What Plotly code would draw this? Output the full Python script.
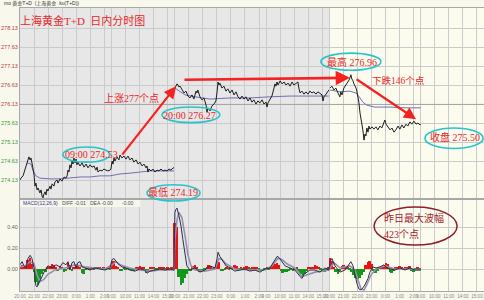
import plotly.graph_objects as go

DAY_LEN = 660  # trading minutes per day: 20:00-02:30, 09:00-11:30, 13:30-15:30

# ---------------- price (minute within day, price) ----------------
day1_price = [(0,274.13),(4,274.18),(13,274.24),(21,274.39),(30,274.58),(38,274.74),(43,274.66),(47,274.71),(55,274.45),(60,274.26),(64,273.97),(68,274.05),(73,273.87),(77,273.92),(85,273.79),(90,273.87),(94,273.71),(98,273.66),(102,273.76),(107,273.82),(111,273.74),(115,273.89),(119,273.84),(128,273.97),(132,273.89),(137,274.03),(145,273.97),(149,274.08),(158,274.13),(162,274.05),(171,274.16),(179,274.10),(188,274.21),(196,274.18),(201,274.24),(205,274.39),(209,274.34),(213,274.53),(218,274.45),(222,274.63),(226,274.55),(230,274.71),(235,274.58),(239,274.68),(243,274.53),(247,274.60),(256,274.50),(265,274.58),(273,274.47),(282,274.55),(290,274.45),(299,274.53),(307,274.47),(316,274.50),(324,274.39),(329,274.47),(333,274.34),(341,274.39),(350,274.37),(358,274.42),(367,274.39),(375,274.37),(384,274.39),(388,274.42),(393,274.63),(397,274.55),(401,274.71),(405,274.63),(414,274.74),(422,274.66),(427,274.79),(435,274.71),(444,274.76),(452,274.68),(461,274.76),(469,274.66),(478,274.71),(486,274.60),(495,274.66),(504,274.55),(512,274.60),(521,274.50),(529,274.55),(538,274.45),(542,274.50),(546,274.34),(550,274.42),(559,274.37),(567,274.42),(576,274.34),(585,274.39),(593,274.37),(602,274.42),(610,274.37),(619,274.39),(627,274.37),(636,274.42),(644,274.39),(653,274.45),(657,274.45)]
day2_price = [(1,276.55),(6,276.60),(10,276.66),(14,276.63),(18,276.58),(23,276.60),(31,276.50),(40,276.42),(48,276.47),(57,276.34),(65,276.29),(74,276.37),(82,276.26),(91,276.47),(95,276.42),(99,276.50),(108,276.32),(116,276.24),(125,276.29),(134,276.10),(138,275.92),(142,276.03),(151,275.95),(159,276.08),(168,276.13),(176,276.21),(181,276.45),(185,276.71),(189,276.63),(193,276.68),(202,276.55),(210,276.60),(219,276.47),(227,276.53),(236,276.42),(245,276.50),(253,276.37),(262,276.45),(270,276.32),(279,276.26),(287,276.34),(296,276.26),(304,276.32),(313,276.21),(321,276.29),(330,276.18),(338,276.24),(347,276.13),(355,276.21),(364,276.16),(373,276.24),(381,276.13),(390,276.18),(394,276.05),(398,276.16),(407,276.24),(415,276.34),(424,276.55),(428,276.66),(432,276.60),(437,276.71),(441,276.63),(450,276.74),(458,276.66),(467,276.71),(475,276.63),(484,276.68),(492,276.60),(501,276.71),(509,276.63),(518,276.68),(526,276.71),(530,276.55),(535,276.42),(543,276.47),(552,276.39),(560,276.45),(569,276.39),(577,276.47),(586,276.42),(594,276.45),(603,276.39),(611,276.45),(620,276.42),(629,276.37),(633,276.21),(637,276.32),(646,276.39),(654,276.45),(658,276.50)]
day3_price = [(3,276.55),(11,276.60),(20,276.50),(28,276.55),(37,276.42),(45,276.32),(49,276.45),(54,276.37),(62,276.55),(71,276.63),(79,276.71),(84,276.76),(88,276.82),(92,276.90),(96,276.79),(101,276.74),(105,276.66),(114,276.55),(118,276.45),(122,276.34),(126,276.18),(131,275.89),(135,275.76),(139,275.66),(143,275.45),(148,275.18),(152,275.34),(156,275.29),(160,275.50),(165,275.39),(169,275.55),(173,275.47),(182,275.53),(190,275.47),(199,275.53),(207,275.45),(216,275.55),(224,275.50),(233,275.66),(237,275.71),(242,275.60),(250,275.53),(259,275.45),(267,275.50),(276,275.39),(284,275.45),(293,275.55),(301,275.47),(310,275.58),(318,275.50),(327,275.60),(335,275.55),(344,275.66),(352,275.60),(361,275.68),(370,275.60),(378,275.63),(387,275.58),(390,275.60)]

# ---------------- average price line ----------------
day1_avg = [(30,274.58),(47,274.55),(55,274.39),(68,274.24),(85,274.18),(128,274.16),(171,274.16),(213,274.18),(256,274.21),(299,274.21),(341,274.24),(384,274.24),(427,274.29),(469,274.31),(512,274.34),(555,274.37),(597,274.37),(657,274.37)]
day2_avg = [(1,276.55),(14,276.50),(44,276.37),(87,276.32),(151,276.26),(236,276.29),(321,276.29),(407,276.32),(492,276.34),(577,276.34),(658,276.34)]
day3_avg = [(3,276.50),(45,276.45),(88,276.47),(114,276.42),(131,276.29),(143,276.18),(160,276.10),(194,276.05),(259,276.05),(323,276.03),(390,276.03)]

PREV_CLOSE = 276.12

# ---------------- MACD (minute over the 3-day window, value) ----------------
macd_diff = [(0,0.04),(9,0.07),(17,0.03),(26,0.01),(34,0.10),(43,0.13),(51,0.10),(60,0.01),(64,-0.10),(68,-0.16),(73,-0.17),(81,-0.13),(94,-0.06),(107,-0.01),(119,0.03),(137,0.01),(154,0.04),(171,0.02),(183,0.06),(196,0.04),(205,0.07),(213,-0.01),(222,0.06),(230,0.07),(239,0.01),(247,0.06),(256,0.07),(265,0.02),(277,0.01),(299,-0.01),(320,0.01),(341,0.0),(363,-0.01),(384,0.01),(393,0.09),(401,0.10),(410,0.07),(418,0.05),(435,0.02),(452,0.01),(469,-0.01),(491,-0.02),(512,0.0),(533,-0.01),(542,-0.04),(555,-0.02),(576,-0.01),(597,0.0),(619,-0.01),(640,0.0),(657,-0.01),
             (661,0.54),(666,0.57),(670,0.58),(678,0.51),(687,0.41),(695,0.28),(704,0.13),(712,0.03),(725,-0.01),(747,0.01),(768,-0.03),(789,-0.01),(811,0.03),(832,0.01),(841,0.10),(845,0.16),(853,0.12),(866,0.07),(879,0.03),(896,0.01),(917,-0.02),(939,-0.01),(960,0.0),(981,-0.02),(1003,-0.01),(1024,-0.03),(1045,0.0),(1067,0.01),(1088,0.09),(1097,0.12),(1105,0.11),(1118,0.07),(1131,0.03),(1152,0.01),(1173,-0.01),(1195,-0.07),(1203,-0.09),(1212,-0.05),(1237,-0.01),(1259,-0.01),(1280,-0.03),(1301,0.01),(1318,-0.01),
             (1323,0.07),(1331,0.10),(1344,0.03),(1365,-0.03),(1387,-0.01),(1404,0.05),(1412,0.07),(1421,0.03),(1429,-0.06),(1438,-0.14),(1446,-0.19),(1455,-0.20),(1463,-0.18),(1472,-0.15),(1485,-0.09),(1493,-0.03),(1506,0.02),(1519,0.01),(1536,0.02),(1553,0.04),(1566,0.01),(1579,0.0),(1600,-0.01),(1621,0.01),(1643,-0.01),(1664,0.01),(1685,-0.01),(1710,-0.01)]
macd_dea = [(0,0.02),(21,0.03),(43,0.07),(60,0.05),(73,-0.06),(85,-0.12),(102,-0.10),(119,-0.05),(149,-0.01),(192,0.01),(235,0.04),(277,0.02),(320,0.01),(363,0.0),(393,0.04),(410,0.07),(427,0.04),(469,0.01),(512,-0.01),(555,-0.02),(597,-0.01),(657,-0.01),
            (661,0.28),(670,0.47),(678,0.54),(691,0.49),(704,0.32),(717,0.13),(730,0.03),(747,-0.01),(789,-0.02),(832,0.0),(849,0.10),(862,0.09),(879,0.05),(917,0.0),(981,-0.01),(1045,-0.01),(1075,0.03),(1101,0.10),(1118,0.09),(1139,0.05),(1173,0.01),(1203,-0.07),(1220,-0.06),(1259,-0.03),(1318,-0.01),
            (1323,0.01),(1340,0.06),(1365,0.01),(1408,0.03),(1429,-0.01),(1442,-0.10),(1455,-0.19),(1468,-0.20),(1480,-0.15),(1497,-0.06),(1519,0.0),(1557,0.03),(1600,0.0),(1664,0.0),(1710,-0.01)]
macd_hist = [(0,0.03),(9,0.04),(17,0.02),(26,0.04),(34,0.09),(43,0.10),(51,0.05),(60,-0.03),(68,-0.12),(77,-0.15),(85,-0.10),(94,-0.05),(102,-0.02),(111,-0.03),(119,0.01),(128,0.03),(137,0.05),(145,0.04),(154,0.02),(162,-0.02),(171,0.03),(179,0.02),(188,-0.03),(196,-0.02),(205,0.06),(213,0.04),(222,-0.02),(230,0.02),(239,0.05),(247,0.04),(256,0.01),(265,-0.04),(273,-0.05),(282,-0.01),(290,0.01),(299,-0.01),(307,0.01),(316,-0.01),(324,0.01),(333,0.02),(341,0.02),(350,-0.01),(358,0.01),(367,-0.01),(375,0.01),(384,-0.01),(393,0.07),(401,0.08),(410,0.03),(418,0.02),(427,-0.02),(435,-0.02),(444,0.01),(452,-0.01),(461,0.01),(469,-0.01),(478,-0.02),(486,-0.02),(495,0.01),(504,0.01),(512,0.03),(521,0.02),(529,0.01),(538,-0.04),(546,-0.03),(555,0.02),(563,0.02),(572,0.01),(580,-0.01),(589,-0.01),(597,0.01),(606,0.02),(614,0.01),(623,-0.01),(631,0.01),(640,-0.01),(648,0.01),(657,0.01),
             (661,0.44),(670,0.40),(678,-0.08),(687,-0.15),(695,-0.13),(704,-0.09),(712,-0.05),(721,-0.02),(730,-0.02),(738,0.03),(747,0.04),(755,0.01),(764,-0.03),(772,-0.03),(781,-0.02),(789,-0.01),(798,0.01),(806,0.04),(815,0.03),(823,-0.01),(832,0.02),(841,0.08),(849,0.07),(858,-0.02),(866,-0.02),(875,-0.01),(883,0.01),(892,-0.01),(900,0.01),(909,0.02),(917,0.04),(926,0.03),(934,-0.01),(943,0.01),(951,-0.01),(960,0.02),(968,0.03),(977,0.01),(985,-0.01),(994,0.01),(1003,0.02),(1011,0.01),(1020,-0.01),(1028,-0.02),(1037,-0.02),(1045,-0.01),(1054,0.01),(1062,-0.01),(1071,0.01),(1079,0.03),(1088,0.05),(1097,0.06),(1105,0.04),(1114,-0.02),(1122,-0.04),(1131,-0.03),(1139,-0.03),(1148,-0.02),(1156,-0.01),(1165,-0.02),(1173,-0.01),(1182,0.01),(1190,-0.02),(1199,-0.05),(1208,-0.08),(1216,-0.05),(1225,-0.02),(1233,0.01),(1242,0.01),(1250,0.02),(1259,0.04),(1267,0.03),(1276,0.01),(1284,-0.01),(1293,-0.02),(1301,-0.03),(1310,-0.01),(1318,0.01),
             (1323,0.10),(1331,0.08),(1340,0.02),(1348,-0.03),(1357,-0.05),(1365,-0.02),(1374,0.03),(1382,0.04),(1391,0.02),(1399,0.01),(1408,-0.01),(1416,-0.03),(1425,-0.06),(1433,-0.09),(1442,-0.10),(1451,-0.09),(1459,-0.06),(1468,-0.03),(1476,0.04),(1485,0.07),(1493,0.08),(1502,0.05),(1510,-0.02),(1519,-0.04),(1527,-0.02),(1536,0.01),(1544,0.02),(1553,0.03),(1562,0.06),(1570,0.05),(1579,-0.03),(1587,-0.04),(1596,-0.02),(1604,0.01),(1613,0.02),(1621,0.03),(1630,0.01),(1638,-0.01),(1647,0.01),(1655,0.02),(1664,0.03),(1672,-0.02),(1681,-0.03),(1689,-0.01),(1698,0.01),(1706,-0.01)]

# ---------------- axis labels ----------------
session_labels = ["20:00","21:00","22:00","23:00","0:00","1:00","2:00","9:00","10:00","11:00","14:00","15:00"]
session_minutes = [0,60,120,180,240,300,360,390,450,510,570,630]
price_ticks = [274.13,274.63,275.13,275.63,276.13,276.63,277.13,277.63,278.13]
macd_ticks = [0.0,0.2,0.4]
macd_tick_text = ["0.00","0.20","0.40"]

N_DAYS = 3
xvals = [m + d*DAY_LEN for d in range(N_DAYS) for m in session_minutes]
xtext = [l for d in range(N_DAYS) for l in session_labels]

def price_label(v):
    col = "#c23b3b" if v > PREV_CLOSE else "#3b9a3b"
    return f"<span style='color:{col}'>{v:.2f}</span>"

GRID = "#cbcbcb"
fig = go.Figure()

# previous-close reference line
fig.add_trace(go.Scatter(x=[0, N_DAYS*DAY_LEN], y=[PREV_CLOSE, PREV_CLOSE], mode="lines",
                         line=dict(color="#a2a2a2", width=1), xaxis="x", yaxis="y"))

for d, (pr, av) in enumerate([(day1_price, day1_avg), (day2_price, day2_avg), (day3_price, day3_avg)]):
    fig.add_trace(go.Scatter(x=[t + d*DAY_LEN for t, _ in av], y=[v for _, v in av], mode="lines",
                             line=dict(color="#6f6fb4", width=1), xaxis="x", yaxis="y"))
    fig.add_trace(go.Scatter(x=[t + d*DAY_LEN for t, _ in pr], y=[v for _, v in pr], mode="lines",
                             line=dict(color="#1c1c1c", width=1), xaxis="x", yaxis="y"))

fig.add_trace(go.Bar(x=[t for t, _ in macd_hist], y=[v for _, v in macd_hist], width=8.4,
                     marker=dict(color=["#ee1111" if v >= 0 else "#15961a" for _, v in macd_hist], line=dict(width=0)),
                     xaxis="x2", yaxis="y2"))
fig.add_trace(go.Scatter(x=[t for t, _ in macd_dea], y=[v for _, v in macd_dea], mode="lines",
                         line=dict(color="#9292ae", width=1.6), xaxis="x2", yaxis="y2"))
fig.add_trace(go.Scatter(x=[t for t, _ in macd_diff], y=[v for _, v in macd_diff], mode="lines",
                         line=dict(color="#2c2c4c", width=1), xaxis="x2", yaxis="y2"))

RED = "#e8262a"
CYAN = "#27c4cc"
SERIF = "Liberation Serif, Noto Sans CJK SC"
shapes = []
# backgrounds for the current day
shapes.append(dict(type="rect", xref="x", yref="y domain", x0=2*DAY_LEN, x1=3*DAY_LEN, y0=0, y1=1,
                   fillcolor="#fcfcee", line=dict(width=0), layer="below"))
shapes.append(dict(type="rect", xref="x2", yref="y2 domain", x0=2*DAY_LEN, x1=3*DAY_LEN, y0=0, y1=1,
                   fillcolor="#fcfcee", line=dict(width=0), layer="below"))
# MACD header box
shapes.append(dict(type="rect", xref="paper", yref="paper", x0=0, x1=0.259, y0=0.31, y1=0.333,
                   fillcolor="#f6f6ea", line=dict(width=0), layer="above"))
# ellipses
def ell(x0, x1, y0, y1, color=CYAN, xref="x", yref="y", w=1.6):
    shapes.append(dict(type="circle", xref=xref, yref=yref, x0=x0, x1=x1, y0=y0, y1=y1,
                       line=dict(color=color, width=w), layer="above"))
ell(183, 384, 274.60, 275.00)
ell(606, 853, 275.64, 276.05)
ell(1284, 1540, 277.02, 277.47)
ell(1728, 1976, 274.96, 275.50)
ell(0.2737, 0.388, 0.33, 0.384, xref="paper", yref="paper")
ell(0.763, 0.942, 0.183, 0.31, color="#8e1b2c", xref="paper", yref="paper", w=1.5)

ann = []
def txt(x, y, s, size=10, color=RED, xref="x", yref="y", xanchor="center", family=SERIF):
    ann.append(dict(x=x, y=y, xref=xref, yref=yref, text=s, showarrow=False, xanchor=xanchor,
                    yanchor="middle", font=dict(size=size, color=color, family=family)))
txt(267, 278.34, "上海黄金T+D  日内分时图", size=11)
txt(476, 276.27, "上涨277个点", size=10)
txt(1615, 276.75, "下跌146个点", size=9.5)
txt(303, 274.79, "09:00 274.53", size=10)
txt(725, 275.84, "20:00 276.27", size=10)
txt(1416, 277.24, "最高 276.96", size=10)
txt(1856, 275.25, "收盘 275.50", size=10)
txt(0.3297, 0.36, "最低 274.19", size=10, xref="paper", yref="paper")
txt(0.780, 0.275, "昨日最大波幅", size=10, color="#a3182c", xref="paper", yref="paper", xanchor="left")
txt(0.780, 0.218, "423个点", size=10, color="#a3182c", xref="paper", yref="paper", xanchor="left")

def arrow(x, y, ax, ay, w=2.2):
    ann.append(dict(x=x, y=y, xref="x", yref="y", ax=ax, ay=ay, axref="pixel", ayref="pixel",
                    showarrow=True, arrowhead=2, arrowsize=1.1, arrowwidth=w, arrowcolor="#f52222", text=""))
arrow(666, 276.60, -55, 70)
arrow(1408, 276.82, -167, 2, w=2.6)
arrow(1690, 275.73, -61, -41)

# header texts
SANS = "Liberation Sans, Noto Sans CJK SC"
txt(0.002, 0.3225, "MACD(12,26,9)", size=5, color="#3a3aa0", xref="paper", yref="paper", xanchor="left", family=SANS)
txt(0.087, 0.3225, "DIFF -0.01", size=5, color="#505050", xref="paper", yref="paper", xanchor="left", family=SANS)
txt(0.147, 0.3225, "DEA -0.00", size=5, color="#505050", xref="paper", yref="paper", xanchor="left", family=SANS)
txt(0.215, 0.3225, "-0.00", size=5, color="#505050", xref="paper", yref="paper", xanchor="left", family=SANS)
txt(-0.039, 0.987, "mo 黄金T+D  (上海黄金  ku(T+D))", size=5, color="#333333", xref="paper", yref="paper", xanchor="left", family=SANS)

fig.update_layout(
    width=484, height=300, showlegend=False, hovermode=False,
    margin=dict(l=20, r=0, t=0, b=0, autoexpand=False),
    paper_bgcolor="#f8f8ec", plot_bgcolor="#e7e7e7",
    shapes=shapes, annotations=ann, bargap=0,
    xaxis=dict(domain=[0, 1], range=[0, N_DAYS*DAY_LEN], anchor="y", tickvals=xvals, showticklabels=False,
               showgrid=True, gridcolor=GRID, gridwidth=1, zeroline=False, showline=True, linecolor="#a8a8a8",
               mirror=True, ticks=""),
    yaxis=dict(domain=[0.34, 0.9733], range=[273.657, 278.657], anchor="x", tickvals=price_ticks,
               ticktext=[price_label(v) for v in price_ticks], tickfont=dict(size=5.5, family=SANS),
               showgrid=True, gridcolor=GRID, zeroline=False, showline=True, linecolor="#a8a8a8", mirror=True, ticks=""),
    xaxis2=dict(domain=[0, 1], range=[0, N_DAYS*DAY_LEN], anchor="y2", tickvals=xvals, ticktext=xtext,
                tickangle=0, tickfont=dict(size=4.6, color="#8a8a8a", family=SANS), showgrid=True,
                gridcolor=GRID, zeroline=False, showline=True, linecolor="#a8a8a8", mirror=True, ticks=""),
    yaxis2=dict(domain=[0.03, 0.3333], range=[-0.2095, 0.657], anchor="x2", tickvals=macd_ticks,
                ticktext=macd_tick_text, tickfont=dict(size=5.5, color="#6a6a6a", family=SANS),
                showgrid=True, gridcolor=GRID, zeroline=False, showline=True, linecolor="#a8a8a8", mirror=True, ticks=""),
)

fig.write_html("out.html")
